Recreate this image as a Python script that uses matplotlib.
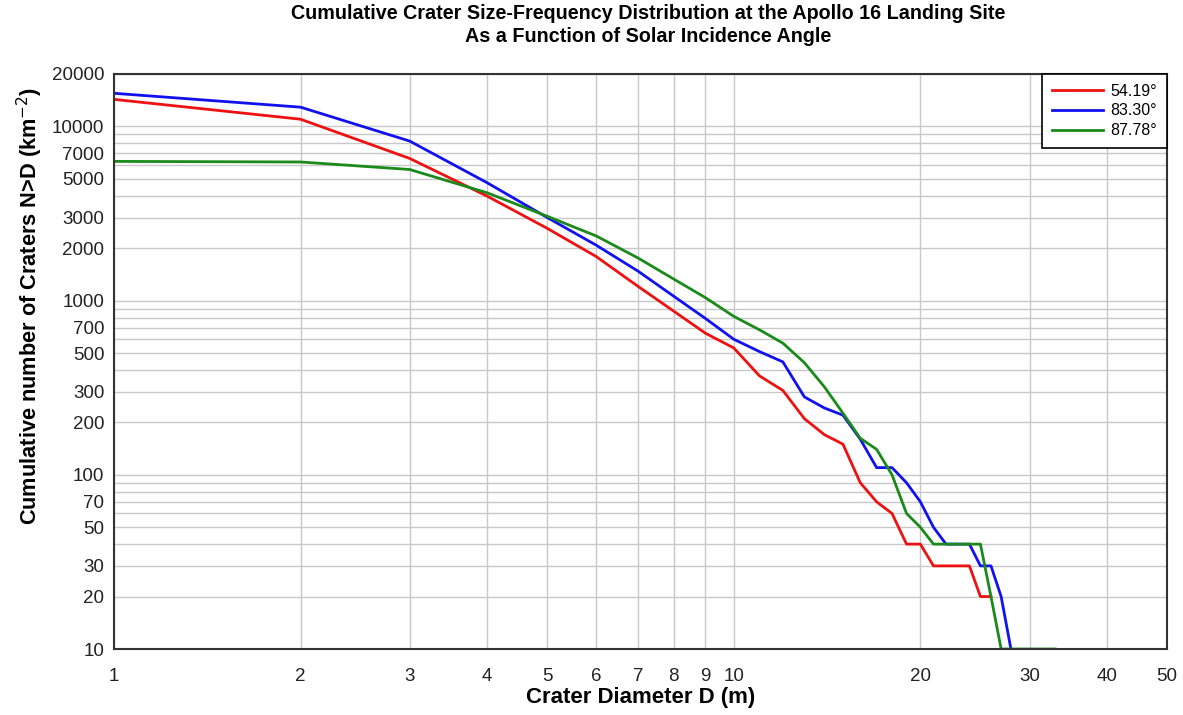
import matplotlib.pyplot as plt
from matplotlib.ticker import FixedLocator, NullFormatter, NullLocator

plt.rcParams['font.family'] = ['Liberation Sans', 'DejaVu Sans']

# crater diameter D (m) and cumulative counts per km^2
d_54 = [1, 2, 3, 4, 5, 6, 7, 8, 9, 10, 11, 12, 13, 14, 15, 16, 17, 18, 19, 20, 21, 24, 25, 26]
n_54 = [14300, 11000, 6550, 3980, 2600, 1790, 1210, 870, 650, 535, 370, 305, 210, 170, 150,
        90, 70, 60, 40, 40, 30, 30, 20, 20]

d_83 = [1, 2, 3, 4, 5, 6, 7, 8, 9, 10, 11, 12, 13, 14, 15, 16, 17, 18, 19, 20, 21, 22, 24,
        25, 26, 27, 28]
n_83 = [15500, 12900, 8240, 4750, 3000, 2080, 1480, 1060, 790, 600, 510, 445, 280, 242, 220,
        160, 110, 110, 90, 70, 50, 40, 40, 30, 30, 20, 10]

d_87 = [1, 2, 3, 4, 5, 6, 7, 8, 9, 10, 11, 12, 13, 14, 15, 16, 17, 18, 19, 20, 21, 25, 26,
        27, 33]
n_87 = [6300, 6250, 5660, 4160, 3050, 2350, 1760, 1330, 1040, 812, 680, 570, 440, 320, 226,
        162, 140, 100, 60, 50, 40, 40, 20, 10, 10]

series_labels = ['54.19°', '83.30°', '87.78°']

x_ticks = [1, 2, 3, 4, 5, 6, 7, 8, 9, 10, 20, 30, 40, 50]
y_labeled = [10, 20, 30, 50, 70, 100, 200, 300, 500, 700, 1000, 2000, 3000, 5000, 7000,
             10000, 20000]
y_grid = [m * 10 ** e for e in range(1, 5) for m in range(1, 10)] + [20000]

fig = plt.figure(figsize=(11.83, 7.15), dpi=100)
ax = fig.add_axes([114 / 1183, 1 - 649 / 715, (1167 - 114) / 1183, (649 - 74) / 715])

ax.plot(d_54, n_54, color='#ee1111', lw=2, label=series_labels[0])
ax.plot(d_83, n_83, color='#1111ee', lw=2, label=series_labels[1])
ax.plot(d_87, n_87, color='#1a8a1a', lw=2, label=series_labels[2])

ax.set_xscale('log')
ax.set_yscale('log')
ax.set_xlim(1, 50)
ax.set_ylim(10, 20000)

ax.xaxis.set_major_locator(FixedLocator(x_ticks))
ax.set_xticklabels([str(v) for v in x_ticks])
ax.xaxis.set_minor_locator(NullLocator())
ax.yaxis.set_major_locator(FixedLocator(y_labeled))
ax.set_yticklabels([str(v) for v in y_labeled])
ax.yaxis.set_minor_locator(FixedLocator(y_grid))
ax.yaxis.set_minor_formatter(NullFormatter())

ax.grid(True, which='both', color='#c8c8c8', lw=1)
ax.set_axisbelow(True)
ax.tick_params(which='both', length=0, labelsize=13.5, colors='#222222')
ax.tick_params(axis='x', pad=14)
ax.tick_params(axis='y', pad=7)
for s in ax.spines.values():
    s.set_color('#333333')
    s.set_linewidth(1.5)

ax.set_xlabel('Crater Diameter D (m)', fontsize=16, fontweight='bold', va='center')
ax.xaxis.set_label_coords(0.5, -0.0835)
ax.set_ylabel('Cumulative number of Craters N>D (km$^{-2}$)', fontsize=15.7,
              fontweight='bold', va='center')
ax.yaxis.set_label_coords(-0.080, 0.597)

fig.text(648 / 1183, 1 - 4 / 715,
         'Cumulative Crater Size-Frequency Distribution at the Apollo 16 Landing Site\n'
         'As a Function of Solar Incidence Angle',
         family=['Liberation Sans Narrow', 'Liberation Sans'], fontsize=14.2,
         fontweight='bold', ha='center', va='top', linespacing=1.3)

leg = ax.legend(loc='upper right', borderaxespad=0, fontsize=11.5, fancybox=False,
                edgecolor='black', framealpha=1, handlelength=3.2, handletextpad=0.5,
                labelspacing=0.3, borderpad=0.6)
leg.get_frame().set_linewidth(1.2)

fig.savefig('out.png', dpi=100)
